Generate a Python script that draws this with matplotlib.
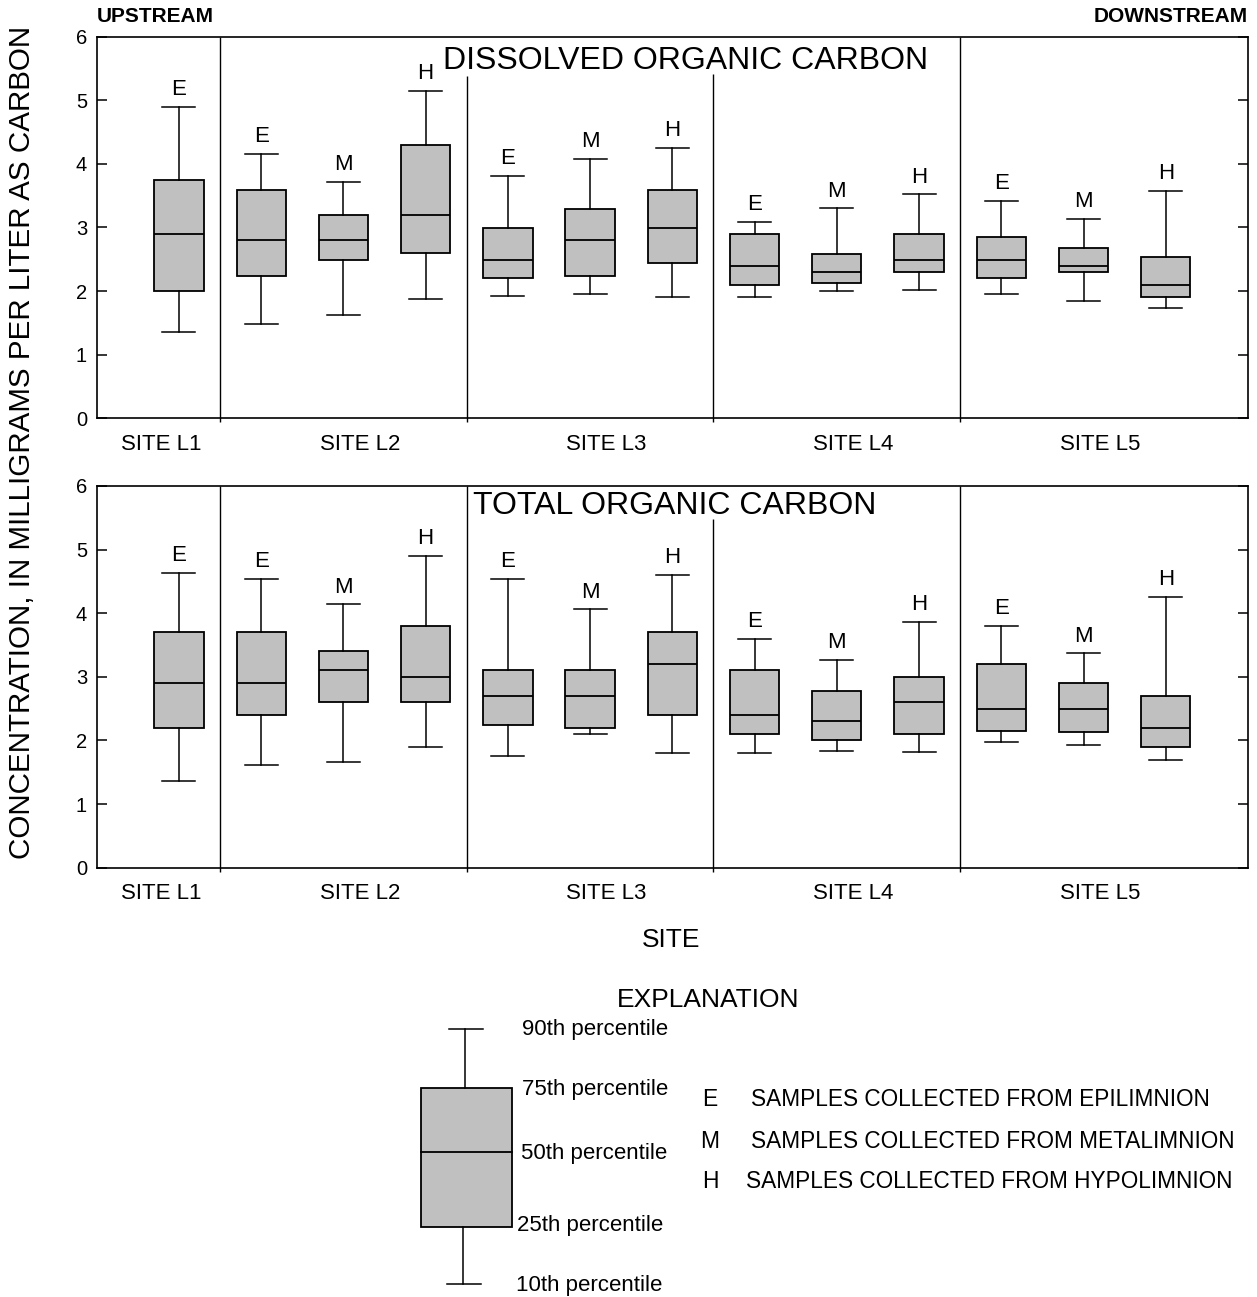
import matplotlib
matplotlib.use("Agg")
import matplotlib.pyplot as plt
from matplotlib.patches import Rectangle

plt.rcParams['font.family'] = ['Liberation Sans', 'DejaVu Sans']

# ---------------- data ----------------
sites = ["SITE L1", "SITE L2", "SITE L3", "SITE L4", "SITE L5"]
site_layers = [["E"], ["E", "M", "H"], ["E", "M", "H"], ["E", "M", "H"], ["E", "M", "H"]]

# Dissolved organic carbon: 10th, 25th, 50th, 75th, 90th percentiles (mg/L)
doc_p10 = [1.36, 1.49, 1.63, 1.88, 1.93, 1.95, 1.90, 1.90, 2.00, 2.02, 1.95, 1.85, 1.74]
doc_p25 = [2.00, 2.24, 2.49, 2.60, 2.20, 2.24, 2.44, 2.09, 2.12, 2.30, 2.20, 2.30, 1.90]
doc_p50 = [2.90, 2.80, 2.80, 3.20, 2.49, 2.80, 2.99, 2.39, 2.30, 2.49, 2.49, 2.39, 2.10]
doc_p75 = [3.74, 3.59, 3.20, 4.29, 2.99, 3.29, 3.59, 2.89, 2.59, 2.89, 2.85, 2.67, 2.54]
doc_p90 = [4.90, 4.16, 3.72, 5.15, 3.81, 4.08, 4.25, 3.09, 3.30, 3.52, 3.42, 3.13, 3.58]

# Total organic carbon
toc_p10 = [1.36, 1.62, 1.66, 1.90, 1.76, 2.10, 1.80, 1.80, 1.83, 1.82, 1.98, 1.93, 1.70]
toc_p25 = [2.20, 2.40, 2.60, 2.60, 2.25, 2.20, 2.40, 2.10, 2.01, 2.10, 2.15, 2.13, 1.90]
toc_p50 = [2.90, 2.90, 3.10, 3.00, 2.70, 2.70, 3.20, 2.40, 2.31, 2.60, 2.50, 2.50, 2.20]
toc_p75 = [3.70, 3.70, 3.40, 3.80, 3.10, 3.10, 3.70, 3.10, 2.78, 3.00, 3.20, 2.90, 2.70]
toc_p90 = [4.64, 4.54, 4.14, 4.90, 4.54, 4.06, 4.60, 3.60, 3.27, 3.86, 3.80, 3.37, 4.26]

yticks = [0, 1, 2, 3, 4, 5, 6]
legend_labels = ["90th percentile", "75th percentile", "50th percentile", "25th percentile", "10th percentile"]
layer_names = {"E": "SAMPLES COLLECTED FROM EPILIMNION",
               "M": "SAMPLES COLLECTED FROM METALIMNION",
               "H": "SAMPLES COLLECTED FROM HYPOLIMNION"}

# ---------------- layout ----------------
W, H = 1257, 1297
fig = plt.figure(figsize=(W / 100, H / 100), dpi=100)

def fx(px):
    return px / W

def fy(py):
    return 1 - py / H

ax_left, ax_right = 96.7, 1248
panels = [
    dict(top=36.7, bot=418.3, title="DISSOLVED ORGANIC CARBON", tx=7.16, ty=5.62,
         data=(doc_p10, doc_p25, doc_p50, doc_p75, doc_p90),
         sep_top=[6, 5.38, 5.42, 6]),
    dict(top=486.0, bot=867.7, title="TOTAL ORGANIC CARBON", tx=7.03, ty=5.69,
         data=(toc_p10, toc_p25, toc_p50, toc_p75, toc_p90),
         sep_top=[6, 6, 5.48, 6]),
]

# positions of boxes
positions = []
labels = []
group_bounds = []
p = 1
for layers in site_layers:
    start = p
    for lay in layers:
        positions.append(p)
        labels.append(lay)
        p += 1
    group_bounds.append((start, p - 1))
separators = [group_bounds[i][1] + 0.5 for i in range(len(group_bounds) - 1)]
site_label_pos = [0.78] + [(a + b) / 2 + 0.2 for a, b in group_bounds[1:]]

for pan in panels:
    ax = fig.add_axes([fx(ax_left), fy(pan["bot"]), fx(ax_right - ax_left),
                       (pan["bot"] - pan["top"]) / H])
    p10, p25, p50, p75, p90 = pan["data"]
    stats = [dict(whislo=a, q1=b, med=c, q3=d, whishi=e, fliers=[])
             for a, b, c, d, e in zip(p10, p25, p50, p75, p90)]
    ax.bxp(stats, positions=positions, widths=0.6, capwidths=0.4,
           showfliers=False, patch_artist=True,
           boxprops=dict(facecolor="#c0c0c0", edgecolor="black", linewidth=1.3),
           medianprops=dict(color="black", linewidth=1.3),
           whiskerprops=dict(color="black", linewidth=1.1),
           capprops=dict(color="black", linewidth=1.1),
           manage_ticks=False)
    for x, lab, top in zip(positions, labels, p90):
        ax.annotate(lab, (x, top), xytext=(0, 8.5), textcoords="offset points",
                    ha="center", va="baseline", fontsize=16)
    for s, yt in zip(separators, pan["sep_top"]):
        ax.vlines(s, -0.06, yt, color="black", linewidth=1.0, clip_on=False)
    ax.text(pan["tx"], pan["ty"], pan["title"], ha="center", va="center", fontsize=23)
    ax.set_xlim(0, 14)
    ax.set_ylim(0, 6)
    ax.set_yticks(yticks)
    ax.tick_params(axis="y", direction="in", length=7, width=1.1, labelsize=14.5,
                   right=True, pad=7)
    ax.set_xticks(site_label_pos)
    ax.set_xticklabels(sites)
    ax.tick_params(axis="x", length=0, labelsize=16, pad=11)
    for sp in ax.spines.values():
        sp.set_linewidth(1.2)

# header texts
fig.text(fx(97), fy(17), "UPSTREAM", ha="left", va="center", fontsize=15, fontweight="bold")
fig.text(fx(1248), fy(17), "DOWNSTREAM", ha="right", va="center", fontsize=15, fontweight="bold")

# axis labels
fig.text(fx(22), fy(442), "CONCENTRATION, IN MILLIGRAMS PER LITER AS CARBON",
         rotation=90, ha="center", va="center", fontsize=21.3)
fig.text(fx(671), fy(940), "SITE", ha="center", va="center", fontsize=19)

# ---------------- explanation ----------------
lax = fig.add_axes([0, 0, 1, 1])
lax.set_xlim(0, W)
lax.set_ylim(H, 0)
lax.axis("off")
lax.text(708, 1000, "EXPLANATION", ha="center", va="center", fontsize=19)
bx0, bx1 = 420.7, 512.3
ly90, ly75, ly50, ly25, ly10 = 1029.3, 1087.7, 1152.3, 1226.7, 1284.3
lax.add_patch(Rectangle((bx0, ly75), bx1 - bx0, ly25 - ly75, facecolor="#c0c0c0",
                        edgecolor="black", linewidth=1.3))
lax.plot([bx0, bx1], [ly50, ly50], color="black", linewidth=1.3)
lax.plot([465, 465], [ly90, ly75], color="black", linewidth=1.1)
lax.plot([463, 463], [ly25, ly10], color="black", linewidth=1.1)
lax.plot([449, 483], [ly90, ly90], color="black", linewidth=1.1)
lax.plot([447, 481], [ly10, ly10], color="black", linewidth=1.1)
for lab, yy, xx in zip(legend_labels, [1030, 1090, 1153, 1225, 1285], [522, 522, 521, 517, 516]):
    lax.text(xx, yy, lab, ha="left", va="center", fontsize=16)
for (key, yy, xt) in [("E", 1100, 751), ("M", 1141, 751), ("H", 1182, 746)]:
    lax.text(710, yy, key, ha="center", va="center", fontsize=16.5)
    lax.text(xt, yy, layer_names[key], ha="left", va="center", fontsize=16.3)

fig.savefig("out.png", dpi=100)
